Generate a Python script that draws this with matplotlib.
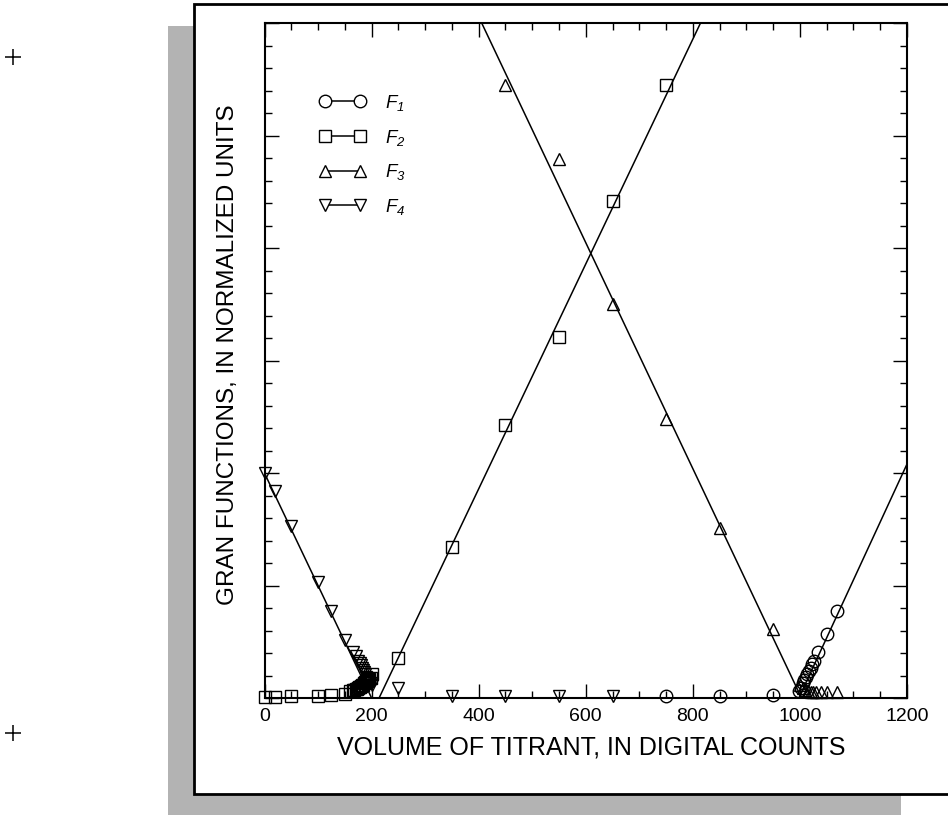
import matplotlib
matplotlib.use("Agg")
import matplotlib.pyplot as plt
from matplotlib.patches import Rectangle
from matplotlib.lines import Line2D
from matplotlib.ticker import MultipleLocator
import numpy as np

plt.rcParams['font.family'] = ['Liberation Sans', 'DejaVu Sans']
plt.rcParams['mathtext.fontset'] = 'custom'
plt.rcParams['mathtext.it'] = 'Liberation Sans:italic'
plt.rcParams['mathtext.rm'] = 'Liberation Sans:italic'

# ---- data (volume in digital counts, Gran function in normalized units) ----
f1_x = [750, 850, 950, 998, 1002, 1005, 1008, 1011, 1014, 1017, 1020, 1023, 1026, 1034, 1050, 1070]
f1_y = [0.02, 0.02, 0.03, 0.06, 0.09, 0.13, 0.16, 0.19, 0.21, 0.24, 0.27, 0.30, 0.33, 0.41, 0.57, 0.77]

f2_x = [0, 20, 50, 100, 125, 150, 160, 165, 168, 170, 172, 174, 176, 178, 180, 182, 184, 186, 188,
        190, 192, 194, 196, 198, 200, 250, 350, 450, 550, 650, 750]
f2_y = [0.01, 0.01, 0.015, 0.02, 0.03, 0.04, 0.06, 0.07, 0.07, 0.08, 0.08, 0.09, 0.10, 0.10, 0.11,
        0.12, 0.12, 0.13, 0.14, 0.15, 0.15, 0.16, 0.17, 0.18, 0.21, 0.36, 1.34, 2.43, 3.21, 4.42, 5.45]

f3_x = [450, 550, 650, 750, 850, 950, 1000, 1005, 1010, 1015, 1020, 1025, 1030, 1040, 1050, 1070]
f3_y = [5.45, 4.79, 3.50, 2.48, 1.51, 0.61, 0.12, 0.09, 0.07, 0.06, 0.05, 0.05, 0.05, 0.05, 0.05, 0.05]

f4_x = [0, 20, 50, 100, 125, 150, 165, 170, 175, 178, 180, 182, 184, 186, 188, 190, 192, 194, 196,
        198, 200, 250, 350, 450, 550, 650]
f4_y = [2.0, 1.84, 1.53, 1.03, 0.77, 0.52, 0.41, 0.37, 0.33, 0.31, 0.29, 0.27, 0.25, 0.23, 0.21,
        0.19, 0.18, 0.16, 0.15, 0.13, 0.12, 0.09, 0.02, 0.02, 0.02, 0.02]

# fitted straight lines: slope, x-intercept, x-range
fit_slope = [0.0103, 0.0100, -0.01005, -0.0100]
fit_x0 = [998, 214, 1003, 200]
fit_xstart = [998, 214, 400, 0]
fit_xend = [1200, 830, 1003, 200]

labels = [r'$F_1$', r'$F_2$', r'$F_3$', r'$F_4$']
markers = ['o', 's', '^', 'v']
xlabels = ['0', '200', '400', '600', '800', '1000', '1200']

W, H = 948, 815
fig = plt.figure(figsize=(W / 100, H / 100), dpi=100)

def fx(px):
    return px / W

def fy(py):
    return 1 - py / H

# shadow and frame
fig.add_artist(Rectangle((fx(168), 0), fx(901) - fx(168), fy(26), transform=fig.transFigure,
                         facecolor='#b3b3b3', edgecolor='none', zorder=-3))
fig.add_artist(Rectangle((fx(193.5), fy(793.7)), 1.05 - fx(193.5), fy(4) - fy(793.7),
                         transform=fig.transFigure, facecolor='white', edgecolor='black',
                         linewidth=2.0, zorder=-2))
for py in (57, 733):
    fig.add_artist(Line2D([fx(13.3)], [fy(py)], marker='+', markersize=11.5, mew=1.1,
                          color='black', transform=fig.transFigure))

ax = fig.add_axes([fx(264.5), fy(698), fx(907) - fx(264.5), fy(23.4) - fy(698)])
ax.set_zorder(1)
ax.patch.set_alpha(0)

series = [(f1_x, f1_y), (f2_x, f2_y), (f3_x, f3_y), (f4_x, f4_y)]
msizes = [9, 8, 9, 9]
for (xs, ys), m, ms in zip(series, markers, msizes):
    ax.plot(xs, ys, linestyle='none', marker=m, markersize=ms, markerfacecolor='none',
            markeredgecolor='black', markeredgewidth=1.0, clip_on=False, zorder=3)

for s, x0, xa, xb in zip(fit_slope, fit_x0, fit_xstart, fit_xend):
    xx = np.array([xa, xb], dtype=float)
    ax.plot(xx, s * (xx - x0), color='black', linewidth=1.1, zorder=2)

ax.set_xlim(0, 1200)
ax.set_ylim(0, 6)
ax.xaxis.set_minor_locator(MultipleLocator(50))
ax.yaxis.set_major_locator(MultipleLocator(1))
ax.yaxis.set_minor_locator(MultipleLocator(0.2))
ax.set_xticks(range(0, 1201, 200))
ax.set_xticklabels(xlabels)
ax.tick_params(which='both', direction='in', top=True, right=True, width=1.0, colors='black')
ax.tick_params(which='major', length=10)
ax.tick_params(which='minor', length=5)
ax.tick_params(axis='x', which='major', labelsize=14, pad=7)
ax.tick_params(axis='y', labelleft=False)
for sp in ax.spines.values():
    sp.set_linewidth(1.5)

fig.text(fx(591), fy(748), 'VOLUME OF TITRANT, IN DIGITAL COUNTS', ha='center', va='center',
         fontsize=18)
fig.text(fx(228.5), fy(355), 'GRAN FUNCTIONS, IN NORMALIZED UNITS', ha='center', va='center',
         rotation=90, fontsize=17.5)

handles = [Line2D([], [], color='black', linewidth=1.1, marker=m, markersize=9 if m != 's' else 8,
                  markerfacecolor='white', markeredgecolor='black', markeredgewidth=1.0)
           for m in markers]
ax.legend(handles, labels, loc='upper left', bbox_to_anchor=(0.085, 0.897), frameon=False,
          numpoints=2, handlelength=2.5, handletextpad=1.0, labelspacing=0.78, fontsize=13.5,
          borderaxespad=0, borderpad=0)

fig.savefig('out.png', dpi=100)
